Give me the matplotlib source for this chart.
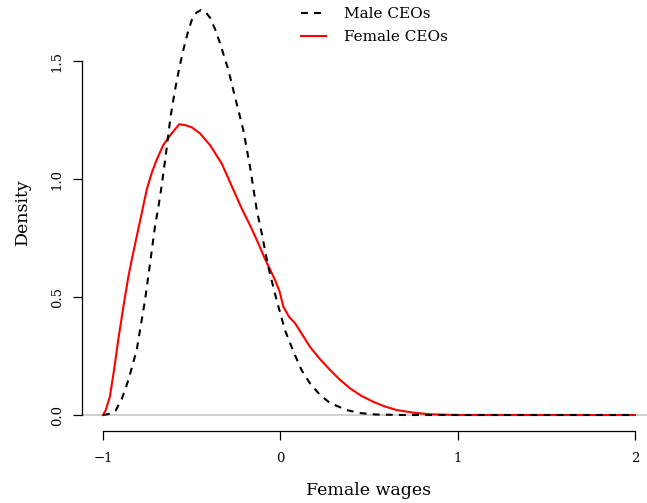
import matplotlib

matplotlib.use("Agg")
import matplotlib.pyplot as plt

plt.rcParams["font.family"] = ["DejaVu Serif"]

# density curves
male_x = [-1.0, -0.97, -0.929, -0.893, -0.857, -0.810, -0.763, -0.735, -0.707,
          -0.688, -0.670, -0.641, -0.619, -0.594, -0.570, -0.547, -0.522,
          -0.500, -0.473, -0.447, -0.420, -0.397, -0.368, -0.340, -0.293,
          -0.256, -0.209, -0.171, -0.133, -0.105, -0.068, -0.021, 0.026,
          0.073, 0.120, 0.167, 0.224, 0.280, 0.374, 0.45, 0.54, 0.7, 1.0,
          1.5, 2.0]
male_y = [0.0, 0.004, 0.018, 0.07, 0.148, 0.275, 0.487, 0.640, 0.798,
          0.880, 0.967, 1.130, 1.265, 1.377, 1.470, 1.547, 1.620,
          1.672, 1.705, 1.716, 1.706, 1.684, 1.635, 1.575, 1.462,
          1.349, 1.208, 1.052, 0.869, 0.770, 0.628, 0.487, 0.360,
          0.270, 0.190, 0.134, 0.085, 0.051, 0.021, 0.008, 0.002, 0.0, 0.0,
          0.0, 0.0]

female_x = [-1.0, -0.985, -0.961, -0.938, -0.914, -0.886, -0.857, -0.838,
            -0.810, -0.782, -0.754, -0.726, -0.698, -0.660, -0.613, -0.570,
            -0.535, -0.500, -0.453, -0.397, -0.331, -0.274, -0.218, -0.162,
            -0.120, -0.086, -0.055, -0.030, -0.005, 0.017, 0.050, 0.083,
            0.120, 0.167, 0.220, 0.280, 0.335, 0.393, 0.455, 0.524, 0.590,
            0.656, 0.75, 0.844, 1.0, 1.5, 2.0]
female_y = [0.0, 0.02, 0.078, 0.19, 0.318, 0.455, 0.586, 0.657,
            0.756, 0.854, 0.953, 1.024, 1.080, 1.144, 1.193, 1.232,
            1.228, 1.219, 1.193, 1.144, 1.066, 0.970, 0.875, 0.790,
            0.720, 0.660, 0.612, 0.572, 0.525, 0.459, 0.415, 0.389,
            0.345, 0.289, 0.240, 0.191, 0.150, 0.113, 0.082, 0.056, 0.036,
            0.021, 0.010, 0.003, 0.0, 0.0, 0.0]

x_ticks = [-1, 0, 1, 2]
x_tick_labels = ["\u22121", "0", "1", "2"]
y_ticks = [0.0, 0.5, 1.0, 1.5]
y_tick_labels = ["0.0", "0.5", "1.0", "1.5"]

W, H = 647, 503
fig = plt.figure(figsize=(W / 100, H / 100), dpi=100)

# R-style plot region: 4% padding, the top/right of it falls off the canvas
xlo, xhi = -1.12, 2.12
ylo, yhi = -0.0688, 1.7888
px_per_x = 532 / 3.0
px_per_y = 236.0
left = 103 - 0.12 * px_per_x
bottom = H - (415 + 0.0688 * px_per_y)
ax = fig.add_axes([left / W, bottom / H,
                   (xhi - xlo) * px_per_x / W, (yhi - ylo) * px_per_y / H])
ax.set_xlim(xlo, xhi)
ax.set_ylim(ylo, yhi)

ax.axhline(0, color="#c8c8c8", lw=1.2, zorder=1)
ax.plot(male_x, male_y, color="black", lw=1.5, dashes=(3.3, 3.0),
        label="Male CEOs", zorder=3)
ax.plot(female_x, female_y, color="red", lw=1.5, label="Female CEOs", zorder=2)

for side in ("top", "right"):
    ax.spines[side].set_visible(False)
ax.spines["left"].set_bounds(0, 1.5)
ax.spines["bottom"].set_bounds(-1, 2)
ax.spines["left"].set_linewidth(0.9)
ax.spines["bottom"].set_linewidth(0.9)

ax.set_xticks(x_ticks)
ax.set_xticklabels(x_tick_labels, fontsize=9.5)
ax.set_yticks(y_ticks)
ax.set_yticklabels(y_tick_labels, fontsize=9.5, rotation=90, va="center")
ax.tick_params(length=6.5, width=0.9)
ax.tick_params(axis="x", pad=8.5)
ax.tick_params(axis="y", pad=6.5)

ax.set_xlabel("Female wages", fontsize=12.5, labelpad=12)
ax.set_ylabel("Density", fontsize=12.5, labelpad=14)

fig.legend(loc="upper left", bbox_to_anchor=(295 / W, 1 - 1 / H),
           frameon=False, fontsize=11, handlelength=1.65, handletextpad=1.15,
           labelspacing=0.6, borderaxespad=0)

fig.savefig("out.png", dpi=100)
